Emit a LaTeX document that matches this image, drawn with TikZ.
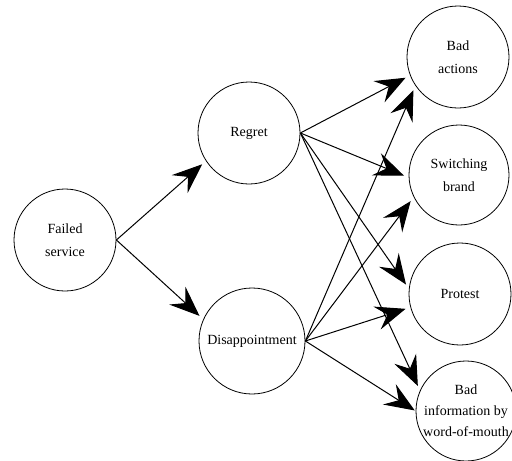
\documentclass[tikz,border=0pt]{standalone}
\usepackage{fontspec}
\setmainfont{Liberation Serif}
\usepackage{tikz}
\usetikzlibrary{calc,arrows.meta}

\tikzset{
    state/.style={circle, draw=black, line width=0.8pt, minimum size=102pt, inner sep=0pt,
        align=center, font=\fontsize{14}{23}\selectfont},
    arr/.style={-{Stealth[length=30pt,width=24pt,inset=11pt]}, line width=1pt, shorten >=5pt}
}

\begin{document}
\begin{tikzpicture}[x=1pt, y=-1pt]
    \useasboundingbox (0,0) rectangle (512,461);

    \node[state] (failed) at (65,240) {Failed\\service};
    
    \node[state] (regret) at ($(failed) + (184,-107)$) {Regret};
    
    \node[state, minimum size=106pt] (disap) at ($(failed) + (187,101)$) {Disappointment};
    
    \node[state] (badact) at (458,57) {Bad\\actions};
    
    \node[state, minimum size=100pt] (switch) at ($(badact) + (1,118)$) {Switching\\brand};
    
    \node[state] (protest) at ($(badact) + (2,237)$) {Protest};
    
    \node[state, minimum size=100pt, label={[align=center, font=\fontsize{14}{21}\selectfont]center:Bad\\information by\\word-of-mouth}] (badinfo) at ($(badact) + (8,354)$) {};
    
    \draw[arr] (failed.east) -- (regret.213);
    \draw[arr] (failed.east) -- (disap.156);
    
    \draw[arr] (regret.east) -- (badact.201);
    \draw[arr] (regret.east) -- (switch.183);
    \draw[arr] (regret.east) -- (protest.174);
    \draw[arr] (regret.east) -- (badinfo.156);
    
    \draw[arr] (disap.east) -- (badact.214);
    \draw[arr] (disap.east) -- (switch.206);
    \draw[arr] (disap.east) -- (protest.195);
    \draw[arr, shorten >=1pt] (disap.east) -- (badinfo.180);
    
    \end{tikzpicture}
\end{document}
